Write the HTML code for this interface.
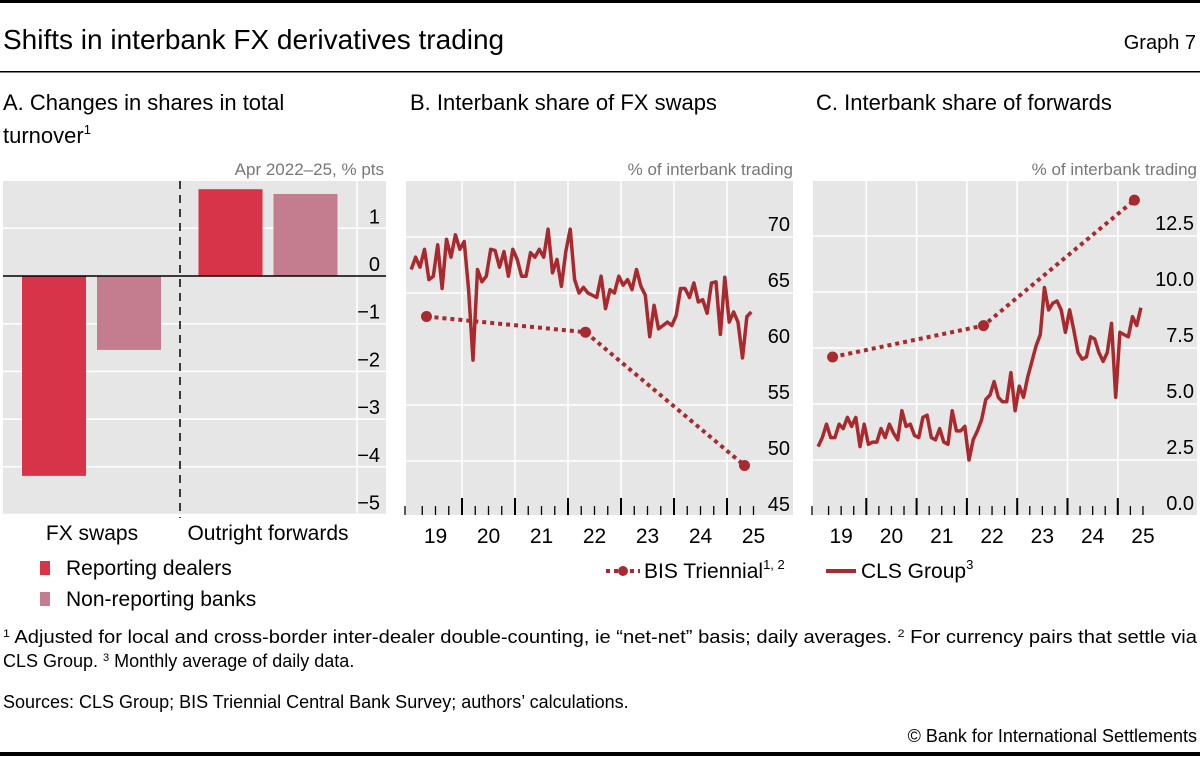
<!DOCTYPE html>
<html><head><meta charset="utf-8"><style>
body{margin:0;background:#fff}
svg text{font-family:"Liberation Sans",sans-serif;fill:#000}
</style></head><body>
<svg id="c" width="1200" height="756" viewBox="0 0 1200 756" xmlns="http://www.w3.org/2000/svg">
<rect x="0" y="0" width="1200" height="3" fill="#000"/>
<text x="3" y="49" font-size="28">Shifts in interbank FX derivatives trading</text>
<text x="1196" y="49" font-size="20" text-anchor="end">Graph 7</text>
<rect x="0" y="71" width="1200" height="1.5" fill="#000"/>
<text x="3" y="110" font-size="22">A. Changes in shares in total</text>
<text x="3" y="143" font-size="22">turnover<tspan font-size="13" dy="-9">1</tspan></text>
<text x="410" y="110" font-size="22">B. Interbank share of FX swaps</text>
<text x="816" y="110" font-size="22">C. Interbank share of forwards</text>
<text x="384" y="175" font-size="17" text-anchor="end" style="fill:#777">Apr 2022–25, % pts</text>
<text x="793" y="175" font-size="17" text-anchor="end" style="fill:#777">% of interbank trading</text>
<text x="1197" y="175" font-size="17" text-anchor="end" style="fill:#777">% of interbank trading</text>
<g id="pa"></g><g id="pb"></g><g id="pc"></g>
<g>
<rect x="40" y="561" width="10" height="14" fill="#d7344a"/>
<text x="66" y="575" font-size="21">Reporting dealers</text>
<rect x="40" y="592" width="10" height="14" fill="#c47d8e"/>
<text x="66" y="606" font-size="21">Non-reporting banks</text>
<line x1="606" y1="571" x2="640" y2="571" stroke="#a82a2e" stroke-width="4" stroke-dasharray="4,4"/>
<circle cx="623" cy="571" r="5" fill="#a82a2e"/>
<text x="644" y="578" font-size="21">BIS Triennial<tspan font-size="13" dy="-9">1, 2</tspan></text>
<line x1="826" y1="571" x2="856" y2="571" stroke="#a82a2e" stroke-width="4"/>
<text x="861" y="578" font-size="21">CLS Group<tspan font-size="13" dy="-9">3</tspan></text>
</g>
<g font-size="18">
<text x="3" y="643" textLength="1194" lengthAdjust="spacingAndGlyphs"><tspan font-size="11" dy="-6">1</tspan><tspan dy="6">  Adjusted for local and cross-border inter-dealer double-counting, ie “net-net” basis; daily averages.    </tspan><tspan font-size="11" dy="-6">2</tspan><tspan dy="6">  For currency pairs that settle via</tspan></text>
<text x="3" y="667">CLS Group.   <tspan font-size="11" dy="-6">3</tspan><tspan dy="6">  Monthly average of daily data.</tspan></text>
<text x="3" y="708">Sources: CLS Group; BIS Triennial Central Bank Survey; authors’ calculations.</text>
<text x="1197" y="742" text-anchor="end">© Bank for International Settlements</text>
</g>
<rect x="0" y="752" width="1200" height="4" fill="#000"/>
</svg>
<script>
const barGroups=["FX swaps","Outright forwards"];
const dealers=[-4.19,1.82];
const nonReporting=[-1.55,1.72];
const aTicks=[1,0,-1,-2,-3,-4,-5];
const yearLabels=["19","20","21","22","23","24","25"];
const triDates=[2019.33,2022.33,2025.33];
const triB=[62.9,61.5,49.6];
const triC=[7.1,8.5,14.1];
const clsB=[67.1,68.2,67.3,68.9,66.2,66.5,69.3,65.4,69.8,68.2,70.2,68.9,69.6,65.3,59.0,67.1,66.0,66.5,68.9,68.8,67.3,68.7,66.5,68.9,68.0,66.5,66.5,68.6,68.2,68.9,68.2,70.7,66.8,68.0,65.6,68.7,70.7,66.2,65.0,65.5,65.0,64.8,64.6,66.5,63.6,65.3,65.0,66.5,65.7,66.2,65.3,67.1,65.6,64.8,61.1,63.9,61.8,62.1,62.4,62.1,63.0,65.4,65.4,64.6,65.9,64.2,64.4,63.2,65.9,66.0,61.3,66.4,62.4,63.3,62.4,59.2,62.9,63.3];
const clsC=[3.1,3.5,4.1,3.5,3.5,4.1,3.9,4.4,4.0,4.4,3.1,4.1,3.2,3.3,3.3,3.9,3.5,4.1,3.7,3.4,4.7,4.0,4.1,3.6,3.5,4.4,4.5,3.5,3.4,3.9,3.3,3.2,4.7,3.8,3.8,4.0,2.5,3.4,3.8,4.3,5.2,5.4,6.0,5.3,5.1,5.1,6.4,4.7,5.8,5.3,6.2,6.9,7.6,8.1,10.2,9.2,9.5,9.6,9.2,8.2,9.2,8.3,7.3,7.0,7.1,8.0,7.9,7.3,6.9,7.3,8.6,5.3,8.2,8.1,8.0,8.9,8.5,9.3];
const bTicks=[45,50,55,60,65,70];
const cTicks=[0,2.5,5,7.5,10,12.5];
const NS="http://www.w3.org/2000/svg";
function mk(p,t,a){const e=document.createElementNS(NS,t);for(const k in a)e.setAttribute(k,a[k]);p.appendChild(e);return e;}
(function(){
const g=document.getElementById('pa');
const y=v=>276-v*47.7;
const bg=mk(g,'rect',{x:3,y:181,width:383,height:333,fill:'#e6e6e6'});

mk(g,'line',{x1:357,y1:181,x2:357,y2:514,stroke:'#fff','stroke-width':1.5});
aTicks.forEach(v=>{
 if(v!==0)mk(g,'line',{x1:3,x2:386,y1:y(v),y2:y(v),stroke:'#fff','stroke-width':1.5});
 const t=mk(g,'text',{x:380,y:y(v)-5,'font-size':20,'text-anchor':'end'});
 t.textContent=String(v).replace('-','−');
 
 
});
const gc=[91.5,268],w=64,off=-37.5;
barGroups.forEach((n,i)=>{
 const d=mk(g,'rect',{x:gc[i]+off-w/2,y:Math.min(y(0),y(dealers[i])),width:w,height:Math.abs(y(dealers[i])-y(0)),fill:'#d7344a'});
 
 
 const r=mk(g,'rect',{x:gc[i]-off-w/2,y:Math.min(y(0),y(nonReporting[i])),width:w,height:Math.abs(y(nonReporting[i])-y(0)),fill:'#c47d8e'});
 
 
 const t=mk(g,'text',{x:[92,268][i],y:540,'font-size':21,'text-anchor':'middle'});
 t.textContent=n;
 
 
});
mk(g,'line',{x1:3,x2:386,y1:y(0),y2:y(0),stroke:'#000','stroke-width':1.5});
mk(g,'line',{x1:180,x2:180,y1:181,y2:518,stroke:'#000','stroke-width':1.5,'stroke-dasharray':'8,6'});
})();
function panel(id,x0,x1,ax0,yw,val0,y0,unit,ticks,fmt,cls,tri,nm){
 const g=document.getElementById(id);
 const bg=mk(g,'rect',{x:x0,y:181,width:x1-x0,height:334,fill:'#e6e6e6'});
 
 const X=t=>ax0+(t-2019)*yw;
 const Y=v=>y0-(v-val0)*unit;
 ticks.forEach(v=>{
  if(v!==val0)mk(g,'line',{x1:x0,x2:x1,y1:Y(v),y2:Y(v),stroke:'#fff','stroke-width':1.5});
  const t=mk(g,'text',{x:x1-3,y:Y(v)-6,'font-size':20,'text-anchor':'end'});
  t.textContent=fmt(v);
  
  
 });
 for(let k=1;k<=6;k++)mk(g,'line',{x1:X(2019+k),x2:X(2019+k),y1:181,y2:515,stroke:'#fff','stroke-width':1.5});
 for(let q=1;q<=26;q++){const major=q%4===0;const xx=X(2019+q/4);
  mk(g,'line',{x1:xx,x2:xx,y1:major?498:506,y2:515,stroke:'#000','stroke-width':major?2:1.3});}
 mk(g,'line',{x1:X(2019)-4,x2:X(2019)-4,y1:506,y2:515,stroke:'#000','stroke-width':1.3});
 yearLabels.forEach((l,i)=>{const t=mk(g,'text',{x:X(2019.5+i),y:543,'font-size':21,'text-anchor':'middle'});t.textContent=l;
  
  });
 const pts=cls.map((v,i)=>X(2019+(i+0.5)/12).toFixed(1)+','+Y(v).toFixed(1)).join(' ');
 const pl=mk(g,'polyline',{points:pts,fill:'none',stroke:'#a82a2e','stroke-width':3.5,'stroke-linejoin':'round'});
 
 
 const tp=tri.map((v,i)=>X(triDates[i]).toFixed(1)+','+Y(v).toFixed(1)).join(' ');
 const tl=mk(g,'polyline',{points:tp,fill:'none',stroke:'#a82a2e','stroke-width':4,'stroke-dasharray':'4,4'});
 
 
 tri.forEach((v,i)=>{const c=mk(g,'circle',{cx:X(triDates[i]),cy:Y(v),r:5.5,fill:'#a82a2e'});
  
  });
}
panel('pb',406,793,409,53,60,349,11.2,bTicks,v=>String(v),clsB,triB,'panel-b');
panel('pc',813,1197,816,50.3,0,516,22.4,cTicks,v=>v.toFixed(1),clsC,triC,'panel-c');
</script>
</body></html>
